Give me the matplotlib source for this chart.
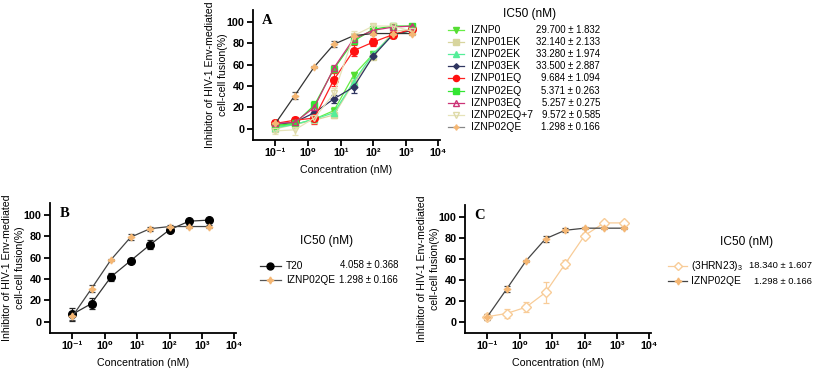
import matplotlib
matplotlib.use("Agg")
import matplotlib.pyplot as plt
from matplotlib.lines import Line2D
from matplotlib.ticker import FixedLocator, LogLocator, NullFormatter, FixedFormatter
import numpy as np

plt.rcParams['font.family'] = ['Liberation Sans', 'DejaVu Sans']
plt.rcParams['mathtext.fontset'] = 'custom'
plt.rcParams['mathtext.rm'] = 'Liberation Sans'
plt.rcParams['mathtext.it'] = 'Liberation Sans:italic'
plt.rcParams['mathtext.bf'] = 'Liberation Sans:bold'

# concentrations (nM), 4-fold dilutions
conc = [0.1, 0.39, 1.56, 6.25, 25, 100, 400, 1600]

# panel A series: name, IC50 text, values, errors
names_a = ['IZNP0', 'IZNP01EK', 'IZNP02EK', 'IZNP03EK', 'IZNP01EQ',
           'IZNP02EQ', 'IZNP03EQ', 'IZNP02EQ+7', 'IZNP02QE']
ic50_a = ['29.700 ± 1.832', '32.140 ± 2.133', '33.280 ± 1.974', '33.500 ± 2.887',
          '9.684 ± 1.094', '5.371 ± 0.263', '5.257 ± 0.275', '9.572 ± 0.585',
          '1.298 ± 0.166']
izn_p0 = [2, 4, 9, 17, 50, 70, 88, 92]
izn_p01ek = [0, 4, 8, 13, 43, 67, 91, 93]
izn_p02ek = [1, 4, 9, 15, 44, 70, 88, 92]
izn_p03ek = [4, 6, 15, 28, 39, 68, 88, 92]
izn_p01eq = [5, 8, 10, 46, 73, 81, 88, 93]
izn_p02eq = [3, 5, 22, 56, 82, 93, 96, 96]
izn_p03eq = [5, 6, 20, 57, 84, 92, 95, 96]
izn_p02eq7 = [-2, -1, 10, 33, 87, 96, 96, 91]
izn_p02qe = [5, 31, 58, 79, 87, 89, 89, 89]

err_p0 = [2, 3, 3, 3, 3, 3, 2, 2]
err_p01ek = [3, 3, 3, 3, 3, 2, 2, 2]
err_p02ek = [2, 2, 3, 3, 3, 2, 2, 2]
err_p03ek = [2, 2, 3, 4, 6, 3, 2, 2]
err_p01eq = [2, 3, 6, 6, 5, 4, 3, 2]
err_p02eq = [2, 2, 4, 3, 2, 2, 1, 1]
err_p03eq = [2, 2, 3, 3, 2, 2, 1, 1]
err_p02eq7 = [3, 5, 4, 5, 4, 2, 2, 2]
err_p02qe = [3, 3, 1, 3, 2, 1, 1, 1]

# panel B / C
t20 = [7, 17, 42, 57, 72, 86, 94, 95]
err_t20 = [6, 5, 4, 2, 4, 1, 1, 1]
hrn23 = [5, 8, 14, 28, 55, 82, 94, 94]
err_hrn23 = [3, 4, 5, 10, 4, 2, 2, 2]

star4 = (4, 1, 0)
orange = '#f5b774'
# (values, errors, line colour, marker, marker face, marker edge, marker size)
styles_a = [
    (izn_p0, err_p0, '#66ee44', 'v', '#55dd33', '#55dd33', 5),
    (izn_p01ek, err_p01ek, '#d8d59e', 's', '#d8d59e', '#d8d59e', 5),
    (izn_p02ek, err_p02ek, '#55ee99', '^', '#55ee99', '#55ee99', 5),
    (izn_p03ek, err_p03ek, '#2f3560', 'D', '#2f3560', '#2f3560', 3.5),
    (izn_p01eq, err_p01eq, '#ff2020', 'o', '#ff1010', '#ff1010', 5.5),
    (izn_p02eq, err_p02eq, '#33e633', 's', '#33e633', '#33e633', 5),
    (izn_p03eq, err_p03eq, '#cc3377', '^', 'none', '#cc3377', 5),
    (izn_p02eq7, err_p02eq7, '#e6e3b8', 'v', 'none', '#dedaa8', 5),
    (izn_p02qe, err_p02qe, '#333333', star4, orange, orange, 5),
]

fig = plt.figure(figsize=(8.17, 3.69), dpi=100)
W, H = 817, 369

TICK_FS = 7.8
LABEL_FS = 7.7


def px(x, y):
    return x / W, 1 - y / H


def make_axes(left, top, right, bottom):
    ax = fig.add_axes([left / W, 1 - bottom / H, (right - left) / W, (bottom - top) / H])
    ax.set_xscale('log')
    ax.set_xlim(10 ** -1.69, 10 ** 4.05)
    ax.set_ylim(-10.5, 111)
    for s in ['top', 'right']:
        ax.spines[s].set_visible(False)
    for s in ['left', 'bottom']:
        ax.spines[s].set_linewidth(1.3)
    ax.xaxis.set_major_locator(FixedLocator([1e-1, 1e0, 1e1, 1e2, 1e3, 1e4]))
    ax.xaxis.set_major_formatter(FixedFormatter(['10⁻¹', '10⁰', '10¹', '10²', '10³', '10⁴']))
    ax.xaxis.set_minor_locator(LogLocator(base=10, subs=np.arange(2, 10)))
    ax.xaxis.set_minor_formatter(NullFormatter())
    ax.set_yticks([0, 20, 40, 60, 80, 100])
    ax.tick_params(axis='both', which='major', direction='out', length=4, width=1.3,
                   labelsize=TICK_FS, pad=2)
    ax.tick_params(axis='x', which='minor', direction='out', length=2.5, width=1)
    for lab in ax.get_xticklabels() + ax.get_yticklabels():
        lab.set_fontweight('bold')
    ax.set_xlabel('Concentration (nM)', fontsize=LABEL_FS, labelpad=5)
    ax.set_ylabel('Inhibitor of HIV-1 Env-mediated\ncell-cell fusion(%)', fontsize=7.6,
                  linespacing=1.3)
    ax.yaxis.set_label_coords(-0.135, 0.5)
    return ax


def letter(ax, s):
    ax.text(0.05, 0.97, s, transform=ax.transAxes, fontsize=10.5, fontweight='bold',
            family='Liberation Serif', va='top', ha='left')


def plot_series(ax, vals, errs, lc, mk, mfc, mec, ms, ecolor=None):
    ax.errorbar(conc, vals, yerr=errs, color=lc, marker=mk, markerfacecolor=mfc,
                markeredgecolor=mec, markersize=ms, linewidth=0.9, elinewidth=0.9,
                capsize=2, capthick=0.9, ecolor=ecolor or lc, zorder=3)


def legend_entry(x0, x1, y, lc, mk, mfc, mec, ms):
    fx0, fy = px(x0, y)
    fx1, _ = px(x1, y)
    fig.add_artist(Line2D([fx0, fx1], [fy, fy], color=lc, linewidth=0.9,
                          transform=fig.transFigure))
    fig.add_artist(Line2D([(fx0 + fx1) / 2], [fy], marker=mk, markerfacecolor=mfc,
                          markeredgecolor=mec, markersize=ms, linestyle='none',
                          transform=fig.transFigure))


# ---------- panel A ----------
ax_a = make_axes(253, 10, 440, 140)
letter(ax_a, 'A')
for vals, errs, lc, mk, mfc, mec, ms in styles_a:
    ec = '#555555' if vals is izn_p02qe else None
    plot_series(ax_a, vals, errs, lc, mk, mfc, mec, ms, ecolor=ec)

fig.text(*px(530, 14), 'IC50 (nM)', fontsize=8.6, ha='center', va='center')
ys = [30, 42.3, 54.3, 66.2, 78.3, 90.5, 102.5, 114.8, 127]
for (vals, errs, lc, mk, mfc, mec, ms), name, ic, y in zip(styles_a, names_a, ic50_a, ys):
    lcol = '#888888' if vals is izn_p02qe else lc
    legend_entry(448, 464, y, lcol, mk, mfc, mec, ms * 0.8)
    fig.text(*px(471, y), name, fontsize=7.5, ha='left', va='center')
    fig.text(*px(600, y), ic, fontsize=6.9, ha='right', va='center')

# ---------- panel B ----------
ax_b = make_axes(50, 203, 236, 333)
letter(ax_b, 'B')
plot_series(ax_b, t20, err_t20, '#333333', 'o', 'black', 'black', 5.5, ecolor='#222222')
plot_series(ax_b, izn_p02qe, err_p02qe, '#444444', star4, orange, orange, 5, ecolor='#444444')

fig.text(*px(327, 241), 'IC50 (nM)', fontsize=8.6, ha='center', va='center')
legend_entry(260, 281, 266, '#333333', 'o', 'black', 'black', 5)
fig.text(*px(286, 266), 'T20', fontsize=7.3, ha='left', va='center')
fig.text(*px(398, 265), '4.058 ± 0.368', fontsize=6.9, ha='right', va='center')
legend_entry(260, 281, 280, '#555555', star4, orange, orange, 5)
fig.text(*px(286, 280), 'IZNP02QE', fontsize=7.3, ha='left', va='center')
fig.text(*px(398, 280), '1.298 ± 0.166', fontsize=6.9, ha='right', va='center')

# ---------- panel C ----------
ax_c = make_axes(465, 205, 651, 333)
letter(ax_c, 'C')
light = '#f8cc98'
plot_series(ax_c, hrn23, err_hrn23, light, 'D', 'white', light, 5)
plot_series(ax_c, izn_p02qe, err_p02qe, '#444444', star4, orange, orange, 5, ecolor='#444444')

fig.text(*px(747, 242), 'IC50 (nM)', fontsize=8.6, ha='center', va='center')
legend_entry(668, 687, 266, light, 'D', 'white', light, 4.5)
fig.text(*px(691, 266), '(3HRN23)$_3$', fontsize=7.4, ha='left', va='center')
fig.text(*px(812, 266), '18.340 ± 1.607', fontsize=6.8, ha='right', va='center')
legend_entry(668, 687, 281, '#444444', star4, orange, orange, 5)
fig.text(*px(691, 281), 'IZNP02QE', fontsize=7.4, ha='left', va='center')
fig.text(*px(812, 281), '1.298 ± 0.166', fontsize=6.8, ha='right', va='center')

fig.savefig('out.png', dpi=100, facecolor='white')
